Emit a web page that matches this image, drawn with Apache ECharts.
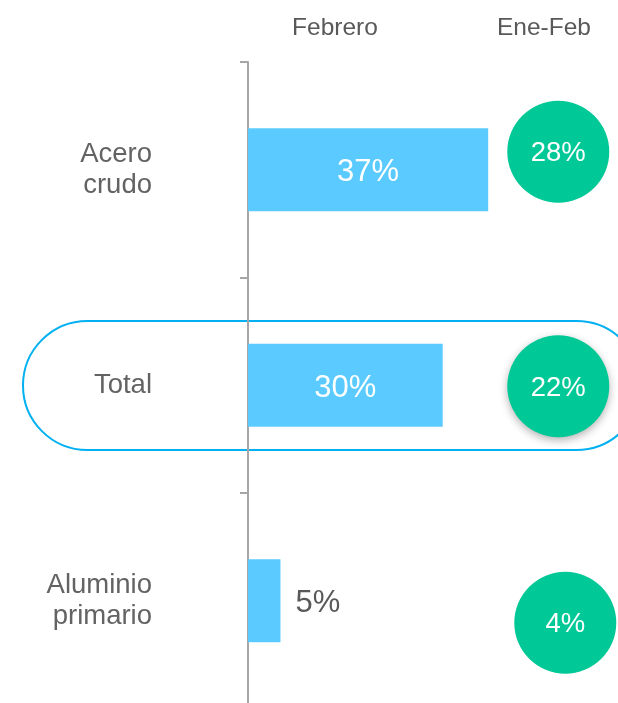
<!DOCTYPE html>
<html>
<head>
<meta charset="utf-8">
<script src="https://cdn.jsdelivr.net/npm/echarts@6/dist/echarts.min.js"></script>
<style>
  html, body { margin: 0; padding: 0; background: #fff; }
  #chart { width: 618px; height: 703px; }
</style>
</head>
<body>
<div id="chart"></div>
<script>
// datos
const categorias = ['Acero\ncrudo', 'Total', 'Aluminio\nprimario']
const febrero = [37, 30, 5]
const eneFeb = [28, 22, 4]
const columnas = ['Febrero', 'Ene-Feb']

const FONT = '"Liberation Sans", Arial, sans-serif'
const GRIS = '#636363'
const AZUL = '#5BCBFF'
const VERDE = '#00C896'

// columna de los circulos, en unidades del eje x
const colCirculo = 47.8
// pequeños desplazamientos de los circulos (px)
const offsets = [[0, -18], [0, 1], [7, 22]]

const chart = echarts.init(document.getElementById('chart'))

const option = {
  animation: false,
  backgroundColor: '#fff',
  grid: { left: 248, width: 370, top: 62, height: 646.5, outerBoundsMode: 'none' },
  xAxis: {
    type: 'value', min: 0, max: 57, show: false
  },
  yAxis: {
    type: 'category',
    inverse: true,
    data: categorias,
    axisLine: { show: true, lineStyle: { color: '#A6A6A6', width: 2 } },
    axisTick: { show: true, length: 8, alignWithLabel: false, lineStyle: { color: '#A6A6A6', width: 2 } },
    axisLabel: {
      color: GRIS, fontSize: 27.5, fontFamily: FONT,
      lineHeight: 31, margin: 96, align: 'right', padding: [5, 0, 0, 0]
    },
    splitLine: { show: false }
  },
  graphic: [
    {
      type: 'rect', z: -1,
      shape: { x: 23, y: 321, width: 618, height: 129, r: 64.5 },
      style: { fill: 'none', stroke: '#00B0F0', lineWidth: 2 }
    },
    {
      type: 'text', x: 335, y: 28,
      style: { text: columnas[0], fill: '#595959', font: '24.5px ' + FONT, align: 'center', verticalAlign: 'middle' }
    },
    {
      type: 'text', x: 544, y: 28,
      style: { text: columnas[1], fill: '#595959', font: '24.5px ' + FONT, align: 'center', verticalAlign: 'middle' }
    }
  ],
  series: [
    {
      type: 'bar',
      barWidth: 83,
      data: febrero.map(v => ({
        value: v,
        label: v >= 10
          ? { show: true, position: 'inside', color: '#fff' }
          : { show: true, position: 'right', distance: 15, color: '#595959' }
      })),
      itemStyle: { color: AZUL },
      label: { fontSize: 31, fontFamily: FONT, offset: [0, 3], formatter: p => p.value + '%' }
    },
    {
      type: 'scatter',
      symbolSize: 102,
      data: eneFeb.map((v, i) => ({
        value: [colCirculo, i],
        symbolOffset: offsets[i],
        itemStyle: i === 1
          ? { shadowBlur: 8, shadowColor: 'rgba(0,0,0,0.3)', shadowOffsetY: 3 }
          : {}
      })),
      itemStyle: { color: VERDE, opacity: 1 },
      label: {
        show: true, position: 'inside', color: '#fff', fontSize: 27.5, fontFamily: FONT,
        offset: [0, 2],
        formatter: p => eneFeb[p.dataIndex] + '%'
      }
    }
  ]
}

chart.setOption(option)
</script>
</body>
</html>
